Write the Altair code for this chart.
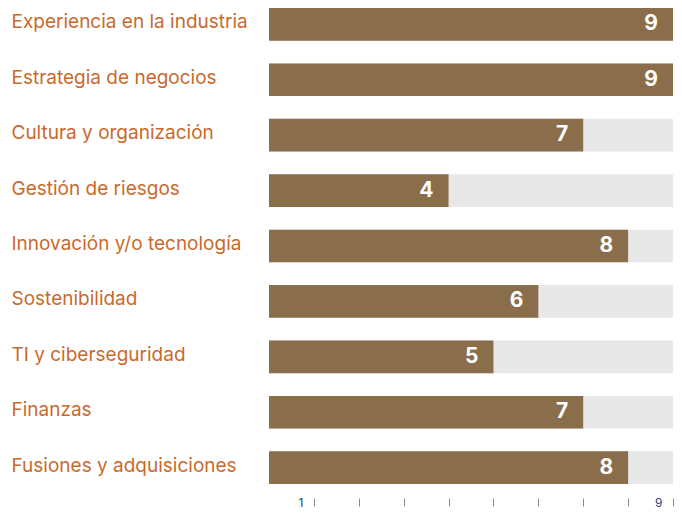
import altair as alt
import pandas as pd

categories = [
    "Experiencia en la industria",
    "Estrategia de negocios",
    "Cultura y organización",
    "Gestión de riesgos",
    "Innovación y/o tecnología",
    "Sostenibilidad",
    "TI y ciberseguridad",
    "Finanzas",
    "Fusiones y adquisiciones",
]
values = [9, 9, 7, 4, 8, 6, 5, 7, 8]
scale_max = 9
tick_values = [1, 2, 3, 4, 5, 6, 7, 8, 9]
shown_tick_labels = [1, 9]

df = pd.DataFrame({"cat": categories, "val": values, "zero": 0, "full": scale_max})

BROWN = "#8A6D4B"
GRAY = "#E8E8E8"
ORANGE = "#C96A2C"
NAVY = "#2A3F6B"
FONT = "Inter"

label_expr = " || ".join(f"datum.value == {v}" for v in shown_tick_labels)

y = alt.Y(
    "cat:N",
    sort=categories,
    title=None,
    scale=alt.Scale(paddingInner=0.41, paddingOuter=0),
    axis=alt.Axis(
        ticks=False,
        tickSize=0,
        domain=False,
        labelAlign="left",
        labelPadding=258,
        labelOffset=-2,
        labelFont=FONT,
        labelFontSize=19,
        labelColor=ORANGE,
        labelLimit=300,
    ),
)

xscale = alt.Scale(domain=[0, scale_max], nice=False, zero=True)

bg = alt.Chart(df).mark_bar(color=GRAY, cornerRadius=0).encode(
    x=alt.X(
        "zero:Q",
        scale=xscale,
        title=None,
        axis=alt.Axis(
            values=tick_values,
            grid=False,
            domain=False,
            tickSize=8,
            tickColor="#8A8A8A",
            tickWidth=1,
            offset=14,
            labelExpr=f"({label_expr}) ? datum.label : ''",
            labelAlign="right",
            labelBaseline="middle",
            labelPadding=-4,
            labelOffset=-11,
            labelFont=FONT,
            labelFontSize=12,
            labelColor=NAVY,
        ),
    ),
    x2="full:Q",
    y=y,
)

bars = alt.Chart(df).mark_bar(color=BROWN).encode(
    x=alt.X("zero:Q", scale=xscale),
    x2="val:Q",
    y=alt.Y("cat:N", sort=categories),
)

text = alt.Chart(df).mark_text(
    align="right", baseline="middle", dx=-15, dy=0,
    color="white", fontWeight="bold", fontSize=21, font=FONT,
).encode(
    x=alt.X("val:Q", scale=xscale),
    y=alt.Y("cat:N", sort=categories),
    text="val:Q",
)

chart = (
    alt.layer(bg, bars, text)
    .properties(width=404, height=476, padding={"left": 3, "top": 0, "right": 0, "bottom": 0})
    .configure_view(stroke=None)
)

chart.save("out.html", embed_options={"renderer": "svg", "actions": False})
